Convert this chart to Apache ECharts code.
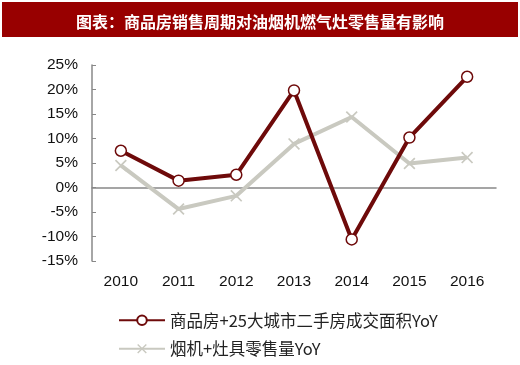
<!DOCTYPE html>
<html><head><meta charset="utf-8">
<script src="https://cdn.jsdelivr.net/npm/echarts@6/dist/echarts.min.js"></script>
<style>html,body{margin:0;padding:0;background:#fff}#c{width:520px;height:365px}</style>
</head><body><div id="c"></div>
<script>
var titleText = '图表：商品房销售周期对油烟机燃气灶零售量有影响';
var categories = ['2010','2011','2012','2013','2014','2015','2016'];
var seriesNames = ['商品房+25大城市二手房成交面积YoY','烟机+灶具零售量YoY'];
var houseYoY = [7.5, 1.4, 2.6, 19.8, -10.6, 10.2, 22.6];
var hoodYoY = [4.5, -4.4, -1.7, 8.9, 14.4, 4.9, 6.1];
var yTicks = {min: -15, max: 25, interval: 5};

var chart = echarts.init(document.getElementById('c'));
var xShape = 'path://M0,1L1,0L5,4L9,0L10,1L6,5L10,9L9,10L5,6L1,10L0,9L4,5Z';
chart.setOption({
  animation: false,
  graphic: [{type:'rect', shape:{x:2,y:2,width:516,height:35}, style:{fill:'#980000'}}],
  title: {text: titleText, left: 'center', top: 9,
    textStyle: {color:'#fff', fontSize:16, fontWeight:'bold', fontFamily:'Noto Sans CJK SC'}},
  grid: {left: 92, right: 24, top: 65, bottom: 104},
  legend: {orient:'vertical', left: 113, top: 307, itemWidth: 46, itemHeight: 12, itemGap: 12,
    textStyle:{fontSize:16.5, color:'#222', fontFamily:'Noto Sans CJK SC'},
    data: seriesNames},
  xAxis: [{type:'category', data: categories, boundaryGap: true,
      axisLine:{onZero:true, lineStyle:{color:'#888', width:1.5}},
      axisTick:{inside:true, length:4, lineStyle:{color:'#888'}},
      axisLabel:{show:false}},
    {type:'category', data: categories, position:'bottom', boundaryGap:true,
      axisLine:{show:false, onZero:false}, axisTick:{show:false},
      axisLabel:{margin:13, fontSize:15.5, color:'#111', fontFamily:'Liberation Sans'}}],
  yAxis: {type:'value', min: yTicks.min, max: yTicks.max, interval: yTicks.interval,
    splitLine:{show:false},
    axisLine:{show:true, lineStyle:{color:'#888', width:1.5}},
    axisTick:{show:true, inside:true, length:4, lineStyle:{color:'#888'}},
    axisLabel:{formatter:'{value}%', fontSize:15.5, color:'#111', margin:14, fontFamily:'Liberation Sans'}},
  series: [
    {name: seriesNames[0], type:'line', data: houseYoY, xAxisIndex:0,
      symbol:'circle', symbolSize:11, z:3,
      lineStyle:{color:'#6e0a0a', width:4},
      itemStyle:{color:'#fff', borderColor:'#6e0a0a', borderWidth:1.5}},
    {name: seriesNames[1], type:'line', data: hoodYoY, xAxisIndex:0,
      symbol: xShape, symbolSize:12, z:2,
      lineStyle:{color:'#c9c9c0', width:4},
      itemStyle:{color:'#c9c9c0'}}
  ]
});
</script></body></html>
